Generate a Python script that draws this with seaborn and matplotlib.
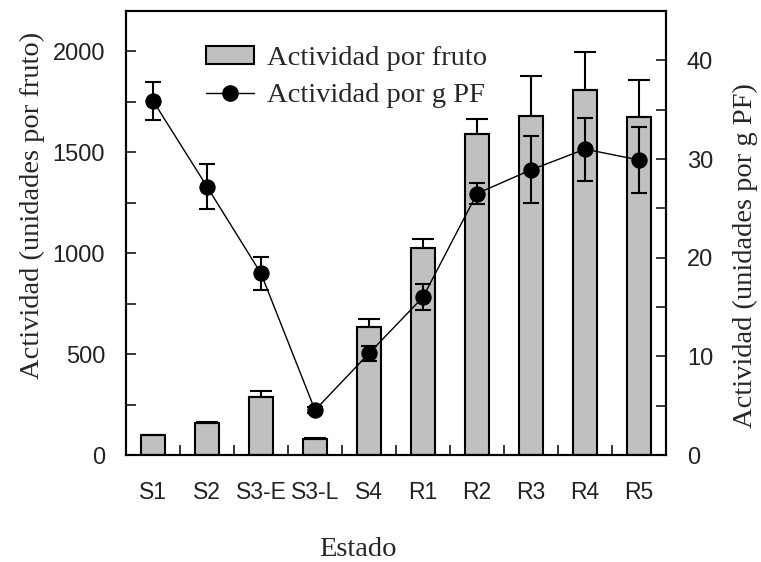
import matplotlib
matplotlib.use('Agg')
import matplotlib.pyplot as plt
import seaborn as sns
import pandas as pd
import numpy as np
from matplotlib.patches import Patch
from matplotlib.lines import Line2D
from matplotlib.ticker import MultipleLocator, FixedLocator

# ---- data ----
estados = ['S1', 'S2', 'S3-E', 'S3-L', 'S4', 'R1', 'R2', 'R3', 'R4', 'R5']
act_fruto = [100, 160, 287, 79, 635, 1028, 1593, 1682, 1810, 1674]
act_fruto_err = [0, 5, 30, 7, 38, 40, 70, 198, 189, 186]
act_gpf = [35.9, 27.2, 18.4, 4.55, 10.3, 16.0, 26.5, 28.9, 31.0, 29.9]
act_gpf_err = [1.95, 2.3, 1.7, 0.3, 0.75, 1.3, 1.1, 3.4, 3.2, 3.3]

sns.set_style('ticks')
plt.rcParams['font.family'] = ['Liberation Serif', 'DejaVu Serif']

SERIF = ['Liberation Serif', 'DejaVu Serif']
SANS = ['Liberation Sans', 'DejaVu Sans']

pos = np.arange(len(estados))
df = pd.DataFrame({'Estado': estados, 'pos': pos, 'fruto': act_fruto,
                   'fruto_err': act_fruto_err, 'gpf': act_gpf, 'gpf_err': act_gpf_err})

fig = plt.figure(figsize=(7.61, 5.62), dpi=100)
ax = fig.add_axes([126 / 761, 107 / 562, 540 / 761, 444 / 562])

sns.barplot(data=df, x='Estado', y='fruto', ax=ax, color='#C0C0C0', saturation=1,
            edgecolor='black', linewidth=1.5, width=0.44, errorbar=None, zorder=2)
ax.errorbar(df['pos'], df['fruto'], yerr=[np.zeros(len(df)), df['fruto_err']],
            fmt='none', ecolor='black', elinewidth=1.5, capsize=8, capthick=1.5, zorder=3)

ax2 = ax.twinx()
sns.lineplot(data=df, x='pos', y='gpf', ax=ax2, color='black', linewidth=1.0,
             marker='o', markersize=11, markeredgecolor='black', sort=False, zorder=3)
ax2.errorbar(df['pos'], df['gpf'], yerr=df['gpf_err'], fmt='none', ecolor='black',
             elinewidth=1.5, capsize=6, capthick=1.5, zorder=3)

ax.set_xlim(-0.5, len(estados) - 0.5)
ax.set_ylim(0, 2200)
ax2.set_ylim(0, 45)

ax.yaxis.set_major_locator(MultipleLocator(500))
ax.yaxis.set_minor_locator(MultipleLocator(250))
ax2.yaxis.set_major_locator(MultipleLocator(10))
ax2.yaxis.set_minor_locator(MultipleLocator(5))
ax.xaxis.set_major_locator(FixedLocator(pos))
ax.set_xticklabels(estados)
ax.xaxis.set_minor_locator(FixedLocator(pos[:-1] + 0.5))

ax.tick_params(axis='y', which='both', direction='in', length=7, width=1.3, pad=15,
               labelsize=17, right=False)
ax2.tick_params(axis='y', which='both', direction='in', length=7, width=1.3, pad=15,
                labelsize=17)
ax.tick_params(axis='x', which='major', length=0, pad=19, labelsize=16.5)
ax.tick_params(axis='x', which='minor', direction='in', length=7, width=1.3)
for lbl in ax.get_xticklabels() + ax.get_yticklabels() + ax2.get_yticklabels():
    lbl.set_family(SANS)
    lbl.set_color('#222222')

for a in (ax, ax2):
    for s in a.spines.values():
        s.set_linewidth(1.5)
        s.set_color('black')

ax.set_xlabel('Estado', fontsize=20.5, family=SERIF)
ax.set_ylabel('Actividad (unidades por fruto)', fontsize=20.5, family=SERIF)
ax2.set_ylabel('Actividad (unidades por g PF)', fontsize=20.5, family=SERIF)
ax.xaxis.set_label_coords((358 - 126) / 540, -(537 - 455) / 444)
ax.yaxis.set_label_coords((45 - 126) / 540, (455 - 205) / 444)
ax2.yaxis.set_label_coords((733 - 126) / 540, (455 - 256) / 444)

handles = [Patch(facecolor='#C0C0C0', edgecolor='black', linewidth=1.5),
           Line2D([], [], color='black', linewidth=1.0, marker='o', markersize=11)]
fig.legend(handles, ['Actividad por fruto', 'Actividad por g PF'],
           loc='upper left', bbox_to_anchor=(206 / 761, 1 - 46 / 562),
           frameon=False, prop={'family': SERIF, 'size': 20.5},
           handlelength=1.7, handleheight=0.55, handletextpad=0.45,
           labelspacing=0.42, borderpad=0, borderaxespad=0)

fig.savefig('out.png', dpi=100)
